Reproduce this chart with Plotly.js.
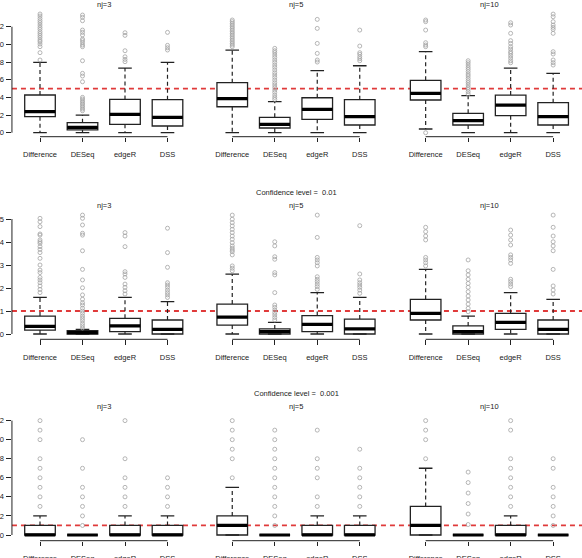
<!DOCTYPE html>
<html>
<head>
<meta charset="utf-8">
<script src="https://cdn.plot.ly/plotly-3.0.1.min.js"></script>
<style>
  html, body { margin: 0; padding: 0; background: #fff; overflow: hidden; }
  #chart { width: 582px; height: 558px; }
</style>
</head>
<body>
<div id="chart"></div>
<script>
// Methods compared in every panel, panel titles and the nominal reference level per row
const methods = ['Difference', 'DESeq', 'edgeR', 'DSS'];
const sampleSizes = ['nj=3', 'nj=5', 'nj=10'];
const confLevels = ['0.05', '0.01', '0.001'];
const refLine = [5, 1, 1];
const yTicks = [[0, 2, 4, 6, 8, 10, 12], [0, 1, 2, 3, 4, 5], [0, 2, 4, 6, 8, 10, 12]];

// Row 1 (confidence level 0.05): [panel nj=3, nj=5, nj=10][method]
const q1R1  = [[1.81, 0.31, 0.95, 0.76], [2.94, 0.53, 1.51, 0.87], [3.70, 0.87, 1.93, 0.87]];
const medR1 = [[2.38, 0.61, 2.08, 1.74], [3.85, 0.94, 2.64, 1.81], [4.45, 1.36, 3.13, 1.81]];
const q3R1  = [[4.27, 1.13, 3.77, 3.74], [5.66, 1.74, 3.96, 3.74], [5.93, 2.19, 4.26, 3.40]];
const loR1  = [[0, 0, 0, 0], [0, 0, 0, 0], [0.42, 0, 0, 0]];
const hiR1  = [[7.97, 2.00, 7.32, 7.97], [9.36, 3.51, 7.02, 7.58], [9.17, 4.19, 7.32, 6.72]];
const outR1 = [
  [[13.44, 13.21, 12.94, 12.68, 12.45, 12.19, 11.93, 11.70, 11.43, 11.21, 10.98, 10.75, 10.49, 10.30, 10.04, 9.74, 9.06, 8.23],
   [13.32, 13.06, 12.68, 11.62, 11.36, 11.06, 10.60, 10.42, 10.19, 9.93, 9.74, 8.15, 6.72, 6.42, 5.77, 4.00, 3.81, 3.62, 3.43, 3.25, 3.06, 2.87, 2.68, 2.49],
   [11.32, 11.02, 9.28, 8.60, 8.30, 8.04],
   [11.36, 9.89, 9.62, 9.36]],
  [[12.76, 12.57, 12.38, 12.19, 12.00, 11.81, 11.62, 11.43, 11.25, 11.06, 10.87, 10.68, 10.49, 10.30, 10.11, 9.93, 9.74],
   [9.55, 9.28, 9.06, 8.79, 8.53, 8.23, 7.96, 7.66, 7.40, 7.10, 6.79, 6.53, 6.26, 5.96, 5.66, 5.40, 5.13, 4.83, 4.57, 4.26, 4.00, 3.77],
   [12.83, 11.81, 10.11, 8.98, 8.23, 8.00],
   [11.62, 9.81, 9.06, 8.87, 8.60, 8.38, 8.15]],
  [[12.76, 12.57, 11.62, 10.19, 9.93, 9.74, 0],
   [8.15, 7.92, 7.66, 7.40, 7.17, 6.91, 6.64, 6.42, 6.15, 5.89, 5.66, 5.40, 5.13, 4.91, 4.64, 4.38],
   [12.45, 12.19, 11.25, 10.42, 10.11, 9.74, 9.47, 9.17, 8.98, 8.72, 8.45, 8.15, 7.92],
   [13.43, 13.13, 12.57, 12.19, 11.93, 11.70, 11.25, 9.17, 8.91, 8.23, 7.93, 7.66]]
];

// Row 2 (confidence level 0.01)
const q1R2  = [[0.17, 0, 0.10, 0], [0.39, 0, 0.10, 0], [0.61, 0, 0.20, 0]];
const medR2 = [[0.33, 0.06, 0.35, 0.20], [0.73, 0.10, 0.42, 0.22], [0.90, 0.10, 0.51, 0.20]];
const q3R2  = [[0.78, 0.15, 0.68, 0.61], [1.30, 0.22, 0.80, 0.65], [1.51, 0.35, 0.90, 0.61]];
const loR2  = [[0, 0, 0, 0], [0, 0, 0, 0], [0, 0, 0, 0]];
const hiR2  = [[1.59, 0.20, 1.59, 1.41], [2.60, 0.51, 1.80, 1.59], [2.81, 0.78, 1.80, 1.51]];
const outR2 = [
  [[5.03, 4.88, 4.67, 4.35, 4.30, 4.09, 4.01, 3.94, 3.80, 3.68, 3.54, 3.29, 3.00, 2.78, 2.67, 2.46, 2.35, 2.23, 2.09, 1.94, 1.80],
   [5.17, 5.03, 4.74, 4.38, 4.30, 3.62, 2.81, 2.35, 2.01, 1.70, 1.51, 1.36, 1.26, 1.12, 1.00, 0.90, 0.78, 0.68, 0.58, 0.46, 0.36, 0.26],
   [4.41, 4.26, 3.80, 2.71, 2.61, 2.46, 2.17, 2.03, 1.88, 1.74],
   [4.60, 3.54, 2.90, 2.23, 2.13, 2.03, 1.91, 1.80, 1.70, 1.59]],
  [[5.17, 4.99, 4.84, 4.70, 4.55, 4.41, 4.26, 4.12, 3.97, 3.83, 3.73, 3.65, 3.58, 3.44, 2.96, 2.86, 2.75],
   [4.01, 3.83, 3.36, 3.25, 2.67, 2.57, 1.80, 1.26, 1.16, 1.04, 0.93, 0.83, 0.72, 0.61],
   [5.17, 4.20, 3.33, 3.22, 3.10, 2.96, 2.49, 2.38, 2.28, 2.17, 2.06, 1.94],
   [4.71, 2.61, 2.35, 2.23, 2.13, 2.03, 1.91, 1.77]],
  [[4.64, 4.45, 4.26, 4.09, 3.33, 3.22, 3.10, 2.96],
   [3.22, 2.75, 2.57, 2.38, 2.20, 2.03, 1.84, 1.65, 1.48, 1.30, 1.12, 0.97],
   [4.52, 4.30, 4.09, 3.87, 3.44, 3.33, 3.22, 3.07, 2.38, 2.28, 2.17, 2.06],
   [5.17, 4.64, 4.26, 4.01, 3.83, 3.62, 2.81, 2.09, 1.91, 1.74]]
];

// Row 3 (confidence level 0.001)
const q1R3  = [[0, 0, 0, 0], [0, 0, 0, 0], [0, 0, 0, 0]];
const medR3 = [[0, 0, 0, 0], [1, 0, 0, 0], [1, 0, 0, 0]];
const q3R3  = [[1, 0, 1, 1], [2, 0, 1, 1], [3, 0, 1, 0]];
const loR3  = [[0, 0, 0, 0], [0, 0, 0, 0], [0, 0, 0, 0]];
const hiR3  = [[2, 0, 2, 2], [5, 0, 2, 2], [7, 0, 2, 0]];
const outR3 = [
  [[3, 4, 5, 6, 7, 8, 10, 11, 12], [1, 2, 3, 4, 5, 7, 10], [3, 4, 5, 6, 8, 12], [3, 4, 5, 6]],
  [[6, 8, 9, 10, 11, 12], [1, 2, 3, 4, 5, 6, 7, 8, 9, 10, 11], [3, 4, 6, 7, 8, 11], [3, 4, 5, 6, 7, 9]],
  [[8, 10, 11, 12], [1.1, 2.2, 3.3, 4.4, 5.5, 6.6], [3, 4, 5, 6, 7, 8, 11, 12], [1, 2, 3, 4, 5, 7, 8]]
];

const rows = [
  { q1: q1R1, med: medR1, q3: q3R1, lo: loR1, hi: hiR1, out: outR1 },
  { q1: q1R2, med: medR2, q3: q3R2, lo: loR2, hi: hiR2, out: outR2 },
  { q1: q1R3, med: medR3, q3: q3R3, lo: loR3, hi: hiR3, out: outR3 }
];

// ---- geometry / styling ----
const W = 582, H = 558;
const FONT = 'Liberation Sans, Arial, Helvetica, sans-serif';
const INK = '#222222';
const FS = 7.5;
const colLeft = [11.95, 204.2, 397.6];
const colWidth = 183.6;
const rowBottom = [136.7, 339.3, 540.7];
const rowHeight = 128;
const yRanges = [[-0.453, 14.04], [-0.230, 5.335], [-0.598, 12.83]];
const xRange = [0.34, 4.66];
const njTitleY = [4.5, 205.5, 406.5];
const confTitleY = [-8.7, 192.3, 393.3];
const positions = [1, 2, 3, 4];
const boxWidth = 0.72;
const capWidth = 0.32;

const traces = [];
const shapes = [];
const annotations = [];
const layout = {
  width: W, height: H,
  margin: { l: 0, r: 0, t: 0, b: 0 },
  paper_bgcolor: '#ffffff',
  plot_bgcolor: 'rgba(0,0,0,0)',
  showlegend: false,
  font: { family: FONT, size: FS, color: INK }
};

for (let r = 0; r < 3; r++) {
  const s = rows[r];
  for (let c = 0; c < 3; c++) {
    const k = r * 3 + c;
    const sfx = k ? String(k + 1) : '';
    const xa = 'x' + sfx, ya = 'y' + sfx;

    // box bodies (whiskers drawn separately, dashed)
    traces.push({
      type: 'box', x: positions,
      q1: s.q1[c], median: s.med[c], q3: s.q3[c],
      lowerfence: s.q1[c], upperfence: s.q3[c],
      width: boxWidth, whiskerwidth: 0,
      fillcolor: '#ffffff', line: { color: INK, width: 1.3 },
      boxpoints: false, hoverinfo: 'skip',
      xaxis: xa, yaxis: ya
    });

    const wx = [], wy = [], cx = [], cy = [], mx = [], my = [], ox = [], oy = [];
    positions.forEach((p, i) => {
      wx.push(p, p, null, p, p, null);
      wy.push(s.q3[c][i], s.hi[c][i], null, s.q1[c][i], s.lo[c][i], null);
      cx.push(p - capWidth / 2, p + capWidth / 2, null, p - capWidth / 2, p + capWidth / 2, null);
      cy.push(s.hi[c][i], s.hi[c][i], null, s.lo[c][i], s.lo[c][i], null);
      mx.push(p - boxWidth / 2, p + boxWidth / 2, null);
      my.push(s.med[c][i], s.med[c][i], null);
      s.out[c][i].forEach(v => { ox.push(p); oy.push(v); });
    });

    traces.push({
      type: 'scatter', mode: 'lines', x: wx, y: wy, xaxis: xa, yaxis: ya,
      line: { color: INK, width: 1.2, dash: '4px,3px' }, hoverinfo: 'skip', connectgaps: false
    });
    traces.push({
      type: 'scatter', mode: 'lines', x: cx, y: cy, xaxis: xa, yaxis: ya,
      line: { color: INK, width: 1.3 }, hoverinfo: 'skip', connectgaps: false
    });
    traces.push({
      type: 'scatter', mode: 'lines', x: mx, y: my, xaxis: xa, yaxis: ya,
      line: { color: '#000000', width: 3.2 }, hoverinfo: 'skip', connectgaps: false
    });
    traces.push({
      type: 'scatter', mode: 'markers', x: ox, y: oy, xaxis: xa, yaxis: ya,
      marker: { symbol: 'circle-open', size: 4, color: '#a3a3a3', line: { width: 0.8, color: '#a3a3a3' } },
      hoverinfo: 'skip'
    });

    layout['xaxis' + sfx] = {
      domain: [colLeft[c] / W, (colLeft[c] + colWidth) / W],
      range: xRange, anchor: ya,
      tickmode: 'array', tickvals: positions, ticktext: methods,
      ticks: 'outside', ticklen: 4.5, tickwidth: 1, tickcolor: INK,
      ticklabelstandoff: 6,
      showline: false, showgrid: false, zeroline: false, fixedrange: true,
      tickfont: { family: FONT, size: FS, color: INK }
    };

    // only the left-hand panel of each row carries a y axis
    const hasYAxis = c === 0;
    layout['yaxis' + sfx] = {
      domain: [1 - rowBottom[r] / H, 1 - (rowBottom[r] - rowHeight) / H],
      range: yRanges[r], anchor: xa,
      tickmode: 'array', tickvals: yTicks[r], ticktext: yTicks[r].map(String),
      ticks: hasYAxis ? 'outside' : '', showticklabels: hasYAxis,
      ticklen: 4.5, tickwidth: 1, tickcolor: INK,
      ticklabelstandoff: 1,
      showline: false, showgrid: false, zeroline: false, fixedrange: true,
      tickfont: { family: FONT, size: FS, color: INK }
    };

    if (hasYAxis) {
      const yt = yTicks[r];
      shapes.push({
        type: 'line', xref: 'paper', yref: ya,
        x0: colLeft[c] / W, x1: colLeft[c] / W, y0: yt[0], y1: yt[yt.length - 1],
        line: { color: INK, width: 1 }
      });
    }
    // x axis line spans first to last box
    shapes.push({
      type: 'line', xref: xa, yref: 'paper',
      x0: positions[0], x1: positions[positions.length - 1],
      y0: 1 - rowBottom[r] / H, y1: 1 - rowBottom[r] / H,
      line: { color: INK, width: 1 }
    });

    annotations.push({
      text: sampleSizes[c], xref: 'paper', yref: 'paper',
      x: (colLeft[c] + colWidth / 2) / W, y: 1 - njTitleY[r] / H,
      xanchor: 'center', yanchor: 'middle', showarrow: false,
      font: { family: FONT, size: FS, color: INK }
    });
  }

  // dashed nominal reference line across the whole row
  const rowY = r ? 'y' + (r * 3 + 1) : 'y';
  shapes.push({
    type: 'line', xref: 'paper', yref: rowY, layer: 'below',
    x0: colLeft[0] / W, x1: 1, y0: refLine[r], y1: refLine[r],
    line: { color: '#e03a3a', width: 1.8, dash: '5px,4px' }
  });

  if (confTitleY[r] > 0) {
    annotations.push({
      text: 'Confidence level =\u00a0 ' + confLevels[r], xref: 'paper', yref: 'paper',
      x: (colLeft[1] + colWidth / 2) / W, y: 1 - confTitleY[r] / H,
      xanchor: 'center', yanchor: 'middle', showarrow: false,
      font: { family: FONT, size: FS, color: INK }
    });
  }
}

layout.shapes = shapes;
layout.annotations = annotations;

Plotly.newPlot('chart', traces, layout, { staticPlot: true, displayModeBar: false });
</script>
</body>
</html>
